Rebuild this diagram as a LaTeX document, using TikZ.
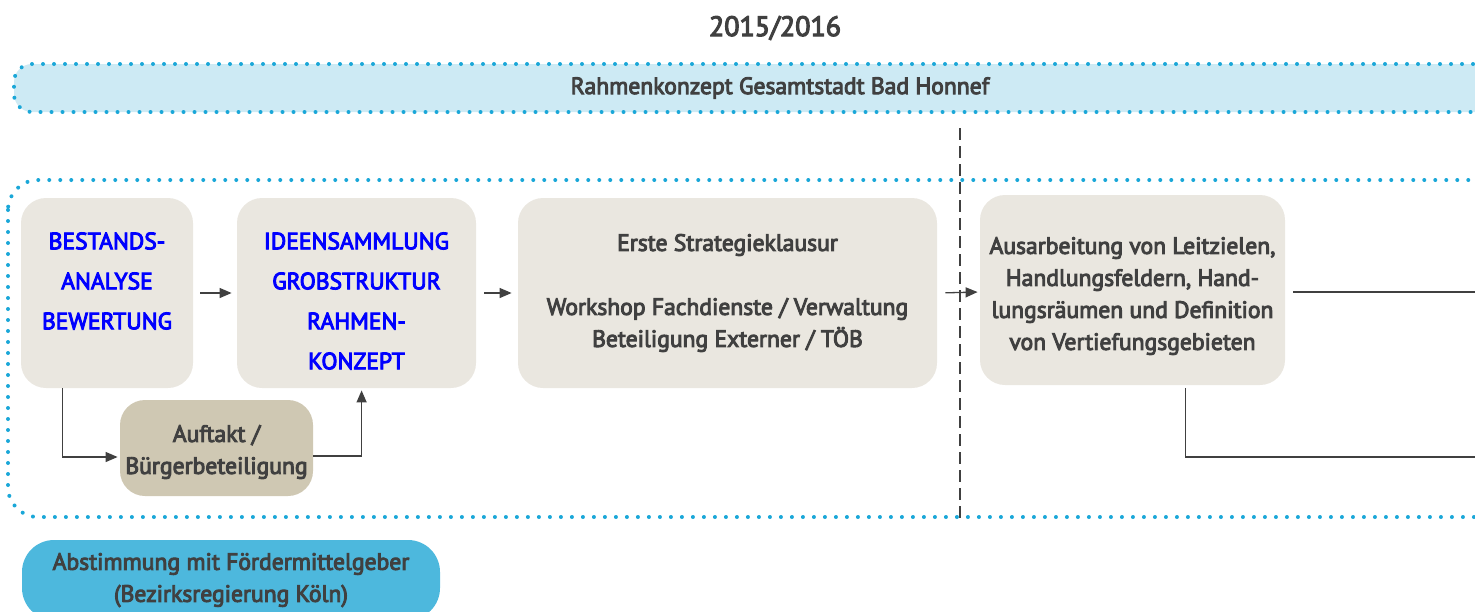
\documentclass[tikz,border=0pt]{standalone}
\usepackage{fontspec}
\setmainfont{PT Sans}[FakeBold=4]
\usetikzlibrary{arrows.meta,positioning}

\definecolor{dotblue}{HTML}{1AA7D8}
\definecolor{bandblue}{HTML}{CDEAF4}
\definecolor{boxgray}{HTML}{EAE7E0}
\definecolor{boxtan}{HTML}{CFC8B3}
\definecolor{boxblue}{HTML}{4DB8DD}
\definecolor{txtgray}{HTML}{404040}

\begin{document}
\begin{tikzpicture}[x=0.5pt, y=-0.5pt,
    every node/.style={text=txtgray, font=\fontsize{11.8}{16}\selectfont},
    dotline/.style={draw=dotblue, line width=2pt, line cap=round, dash pattern=on 0pt off 5.5pt},
    stepbox/.style={fill=boxgray, rounded corners=12.5pt, align=center, minimum height=95pt},
    bluetext/.style={text=blue, align=center, font=\fontsize{11.8}{20}\selectfont},
    conn/.style={draw=txtgray, line width=0.65pt, -{Triangle[length=6pt, width=5pt]}},
    plainline/.style={draw=txtgray, line width=0.65pt}]
    \useasboundingbox (0,0) rectangle (1475,611);
    \clip (0,0) rectangle (1475,611);

    % Header
    \node [font=\fontsize{14}{16}\selectfont] (year) at (775,28) {2015/2016};
    \node [dotline, fill=bandblue, rounded corners=9pt, minimum width=766pt, minimum height=24pt] (band) at (780,88)
        {Rahmenkonzept Gesamtstadt Bad Honnef};

    % Frame and divider
    \draw [dotline, rounded corners=15pt] (8,180) rectangle (1530,517);
    \draw [txtgray, line width=1.4pt, dash pattern=on 6pt off 3pt] (960,128) -- (960,522);

    % Steps
    \node [stepbox, minimum width=86pt] (bestand) at (107,293) {};
    \node [bluetext] (bestandtxt) at (107,281) {BESTANDS-\\ANALYSE\\BEWERTUNG};
    \node [stepbox, minimum width=119.5pt] (ideen) at (356.5,293) {};
    \node [bluetext] (ideentxt) at (356.5,301) {IDEENSAMMLUNG\\GROBSTRUKTUR\\RAHMEN-\\KONZEPT};
    \node [stepbox, minimum width=209.5pt] (klausur) at (727.5,293) {Erste Strategieklausur\\[16pt]Workshop Fachdienste / Verwaltung\\Beteiligung Externer / TÖB};
    \node [stepbox, minimum width=152.5pt] (leitziele) at (1132.5,290) {};
    \node [align=center] (leitzieletxt) at (1132.5,296) {Ausarbeitung von Leitzielen,\\Handlungsfeldern, Hand-\\lungsräumen und Definition\\von Vertiefungsgebieten};
    \node [stepbox, fill=boxtan, minimum width=96.5pt, minimum height=48pt] (auftakt) at (216.5,448) {};
    \node [align=center] (auftakttxt) at (216.5,452) {Auftakt /\\Bürgerbeteiligung};
    \node [stepbox, fill=boxblue, minimum width=209pt, minimum height=40pt, rounded corners=16pt] (abstimmung) at (231,580) {};
    \node [align=center] (abstimmungtxt) at (231,580) {Abstimmung mit Fördermittelgeber\\(Bezirksregierung Köln)};

    % Loose ends
    \coordinate (outA) at (1490,292);
    \coordinate (outB) at (1490,457);

    % Connectors
    \draw [conn, shorten <=3.5pt, shorten >=2.5pt] (bestand) -- (ideen);
    \draw [conn, shorten <=4pt, shorten >=3pt] (ideen) -- (klausur);
    \draw [conn, shorten <=4pt, shorten >=1pt] (klausur.east) -- ([yshift=-1pt]leitziele.west);
    \draw [conn, shorten >=1pt] ([xshift=21pt]bestand.south west) |- ([yshift=-4.5pt]auftakt.west);
    \draw [conn, shorten >=1pt] ([yshift=-4pt]auftakt.east) -| ([xshift=62.5pt]ideen.south west);
    \draw [plainline, shorten <=4pt] ([yshift=-1pt]leitziele.east) -- (outA);
    \draw [plainline, shorten <=1.5pt] ([xshift=103pt]leitziele.south west) |- (outB);
\end{tikzpicture}
\end{document}
